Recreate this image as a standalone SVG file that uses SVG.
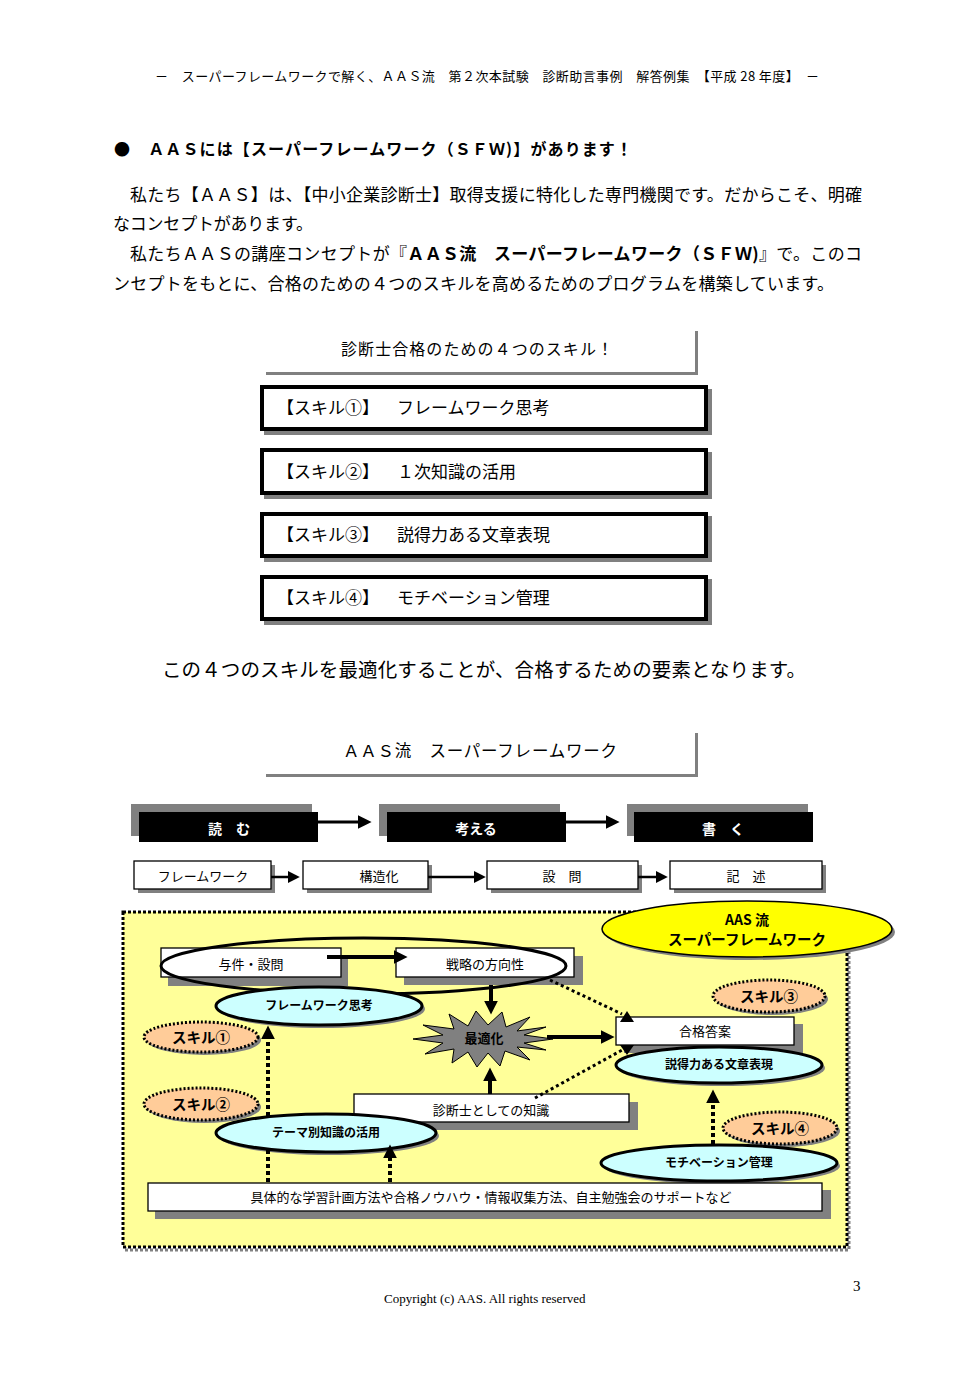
<svg xmlns="http://www.w3.org/2000/svg" width="977" height="1387" viewBox="0 0 977 1387">
<defs>
<style>
.t{font-family:"Noto Sans CJK JP","Noto Sans CJK SC",sans-serif;fill:#000}
.b{font-weight:bold}
.sh{fill:#808080}
.wb{fill:#fff;stroke:#000;stroke-width:1.3}
.sk{fill:#fff;stroke:#000;stroke-width:4}
.cy{fill:#CCFFFF;stroke:#000;stroke-width:3}
.pe{fill:#FFCC99;stroke:#000;stroke-width:3;stroke-dasharray:2 2}
.gl{fill:none;stroke:#808080;stroke-width:3}
.ln{fill:none;stroke:#000}
.dt{stroke-dasharray:4 3}
.ds{stroke-dasharray:3 3}
</style>
<marker id="ah" viewBox="0 0 10 10" refX="6" refY="5" markerWidth="14" markerHeight="14" markerUnits="userSpaceOnUse" orient="auto"><path d="M0,0 L10,5 L0,10 z" fill="#000"/></marker>
<marker id="as" viewBox="0 0 10 10" refX="6" refY="5" markerWidth="12" markerHeight="12" markerUnits="userSpaceOnUse" orient="auto"><path d="M0,0 L10,5 L0,10 z" fill="#000"/></marker>
</defs>
<rect width="977" height="1387" fill="#fff"/>

<!-- header & intro text -->
<text class="t" x="155" y="81" font-size="13" textLength="664" lengthAdjust="spacing" fill="#222">－　スーパーフレームワークで解く、ＡＡＳ流　第２次本試験　診断助言事例　解答例集　【平成 28 年度】　－</text>
<text class="t b" x="114" y="155" font-size="16" textLength="518" lengthAdjust="spacing">●　ＡＡＳには【スーパーフレームワーク（ＳＦＷ)】があります！</text>
<text class="t" x="130" y="201" font-size="17" textLength="732" lengthAdjust="spacing">私たち【ＡＡＳ】は、【中小企業診断士】取得支援に特化した専門機関です。だからこそ、明確</text>
<text class="t" x="113" y="230" font-size="17" textLength="200" lengthAdjust="spacing">なコンセプトがあります。</text>
<text class="t" x="130" y="260" font-size="17" textLength="732" lengthAdjust="spacing">私たちＡＡＳの講座コンセプトが『<tspan class="b">ＡＡＳ流　スーパーフレームワーク（ＳＦＷ)</tspan>』で。このコ</text>
<text class="t" x="113" y="290" font-size="17" textLength="721" lengthAdjust="spacing">ンセプトをもとに、合格のための４つのスキルを高めるためのプログラムを構築しています。</text>

<!-- skills title -->
<g id="skills-title">
<polyline class="gl" points="266,373.5 696.5,373.5 696.5,331"/>
<text class="t" x="341" y="355" font-size="16" textLength="272" lengthAdjust="spacing">診断士合格のための４つのスキル！</text>
</g>
<g id="skill1">
<rect class="sh" x="264" y="389" width="448" height="46"/>
<rect class="sk" x="262" y="387" width="444" height="42"/>
<text class="t" x="277" y="414" font-size="17">【スキル①】</text>
<text class="t" x="397" y="414" font-size="17">フレームワーク思考</text>
</g>
<g id="skill2">
<rect class="sh" x="264" y="452" width="448" height="47"/>
<rect class="sk" x="262" y="450" width="444" height="43"/>
<text class="t" x="277" y="478" font-size="17">【スキル②】</text>
<text class="t" x="397" y="478" font-size="17">１次知識の活用</text>
</g>
<g id="skill3">
<rect class="sh" x="264" y="516" width="448" height="46"/>
<rect class="sk" x="262" y="514" width="444" height="42"/>
<text class="t" x="277" y="541" font-size="17">【スキル③】</text>
<text class="t" x="397" y="541" font-size="17">説得力ある文章表現</text>
</g>
<g id="skill4">
<rect class="sh" x="264" y="579" width="448" height="46"/>
<rect class="sk" x="262" y="577" width="444" height="42"/>
<text class="t" x="277" y="604" font-size="17">【スキル④】</text>
<text class="t" x="397" y="604" font-size="17">モチベーション管理</text>
</g>
<text class="t" x="162" y="677" font-size="19.5" textLength="644" lengthAdjust="spacing">この４つのスキルを最適化することが、合格するための要素となります。</text>

<!-- framework title -->
<g id="sfw-title">
<polyline class="gl" points="266,775.5 696.5,775.5 696.5,733"/>
<text class="t" x="343" y="757" font-size="16.5" textLength="274" lengthAdjust="spacing">ＡＡＳ流　スーパーフレームワーク</text>
</g>

<!-- black step boxes -->
<g id="step-read">
<rect class="sh" x="131" y="804" width="181" height="32"/>
<rect x="139" y="812" width="179" height="30" fill="#000"/>
<text class="t b" x="229" y="834" font-size="14" text-anchor="middle" style="fill:#fff">読　む</text>
</g>
<g id="step-think">
<rect class="sh" x="379" y="804" width="181" height="32"/>
<rect x="387" y="812" width="179" height="30" fill="#000"/>
<text class="t b" x="476" y="834" font-size="14" text-anchor="middle" style="fill:#fff">考える</text>
</g>
<g id="step-write">
<rect class="sh" x="627" y="804" width="181" height="32"/>
<rect x="634" y="812" width="179" height="30" fill="#000"/>
<text class="t b" x="723" y="834" font-size="14" text-anchor="middle" style="fill:#fff">書　く</text>
</g>

<!-- second row -->
<g id="row-fw">
<rect class="sh" x="138" y="865" width="137" height="28"/>
<rect class="wb" x="134" y="861" width="137" height="28"/>
<text class="t" x="203" y="881" font-size="13" text-anchor="middle">フレームワーク</text>
</g>
<g id="row-struct">
<rect class="sh" x="307" y="865" width="125" height="28"/>
<rect class="wb" x="303" y="861" width="125" height="28"/>
<text class="t" x="379" y="881" font-size="13" text-anchor="middle">構造化</text>
</g>
<g id="row-q">
<rect class="sh" x="491" y="865" width="151" height="28"/>
<rect class="wb" x="487" y="861" width="151" height="28"/>
<text class="t" x="562" y="881" font-size="13" text-anchor="middle">設　問</text>
</g>
<g id="row-desc">
<rect class="sh" x="674" y="865" width="152" height="28"/>
<rect class="wb" x="670" y="861" width="152" height="28"/>
<text class="t" x="746" y="881" font-size="13" text-anchor="middle">記　述</text>
</g>

<!-- framework region -->
<g id="region">
<rect x="125" y="915" width="724" height="335" fill="none" stroke="#808080" stroke-width="3" stroke-dasharray="3 2"/>
<rect x="123" y="912" width="724" height="335" fill="#FFFF99" stroke="#000" stroke-width="3" stroke-dasharray="3 2"/>
</g>
<g id="sfw-label">
<ellipse class="sh" cx="750" cy="932" rx="145" ry="28"/>
<ellipse cx="747" cy="929" rx="145" ry="28" fill="#FFFF00" stroke="#000" stroke-width="1.5"/>
<text class="t b" x="747" y="925" font-size="14" text-anchor="middle">AAS 流</text>
<text class="t b" x="747" y="945" font-size="14.5" text-anchor="middle">スーパーフレームワーク</text>
</g>

<g id="yoken">
<rect class="sh" x="168" y="956" width="180" height="30"/>
<rect class="wb" x="161" y="948" width="180" height="29"/>
<text class="t" x="251" y="969" font-size="13" text-anchor="middle">与件・設問</text>
</g>
<g id="senryaku">
<rect class="sh" x="404" y="956" width="179" height="29"/>
<rect class="wb" x="396" y="948" width="178" height="29"/>
<text class="t" x="485" y="969" font-size="13" text-anchor="middle">戦略の方向性</text>
</g>
<g id="read-loop">
<ellipse cx="363.5" cy="966" rx="202.5" ry="28" fill="none" stroke="#000" stroke-width="3"/>
</g>
<g id="fw-think">
<ellipse class="sh" cx="322" cy="1009" rx="103" ry="19"/>
<ellipse class="cy" cx="319" cy="1006" rx="103" ry="19"/>
<text class="t b" x="319" y="1010" font-size="12" text-anchor="middle">フレームワーク思考</text>
</g>
<g id="skill-1">
<ellipse class="sh" cx="204" cy="1040" rx="57" ry="15"/>
<ellipse class="pe" cx="201" cy="1037" rx="57" ry="15"/>
<text class="t b" x="201" y="1042.5" font-size="14.5" text-anchor="middle">スキル①</text>
</g>
<g id="optimize">
<polygon points="553,1039 524,1043 546,1050 517,1047 530,1060 505,1051 500,1066 488,1053 477,1067 468,1052 452,1063 454,1049 425,1054 443,1043 413,1039 443,1035 423,1025 454,1029 449,1014 468,1026 476,1011 488,1025 502,1012 506,1027 530,1017 517,1031 546,1027 524,1035" fill="#808080" stroke="#000" stroke-width="1"/>
<text class="t b" x="484" y="1043" font-size="13" text-anchor="middle">最適化</text>
</g>
<g id="skill-3">
<ellipse class="sh" cx="772" cy="999" rx="56" ry="16"/>
<ellipse class="pe" cx="769" cy="996" rx="56" ry="16"/>
<text class="t b" x="769" y="1001.5" font-size="14.5" text-anchor="middle">スキル③</text>
</g>
<g id="answer">
<rect class="sh" x="624" y="1024" width="179" height="29"/>
<rect class="wb" x="616" y="1017" width="178" height="28"/>
<text class="t" x="705" y="1036" font-size="13" text-anchor="middle">合格答案</text>
</g>
<g id="writing">
<ellipse class="sh" cx="722" cy="1068" rx="103" ry="18"/>
<ellipse class="cy" cx="719" cy="1065" rx="103" ry="18"/>
<text class="t b" x="719" y="1069" font-size="12" text-anchor="middle">説得力ある文章表現</text>
</g>
<g id="knowledge">
<rect class="sh" x="362" y="1102" width="276" height="28"/>
<rect class="wb" x="354" y="1094" width="275" height="28"/>
<text class="t" x="491" y="1115" font-size="13" text-anchor="middle">診断士としての知識</text>
</g>
<g id="skill-2">
<ellipse class="sh" cx="204" cy="1107" rx="57" ry="16"/>
<ellipse class="pe" cx="201" cy="1104" rx="57" ry="16"/>
<text class="t b" x="201" y="1109.5" font-size="14.5" text-anchor="middle">スキル②</text>
</g>
<g id="theme">
<ellipse class="sh" cx="329" cy="1136" rx="110" ry="19"/>
<ellipse class="cy" cx="326" cy="1133" rx="110" ry="19"/>
<text class="t b" x="326" y="1137" font-size="12" text-anchor="middle">テーマ別知識の活用</text>
</g>
<g id="skill-4">
<ellipse class="sh" cx="783" cy="1131" rx="57" ry="16"/>
<ellipse class="pe" cx="780" cy="1128" rx="57" ry="16"/>
<text class="t b" x="780" y="1133.5" font-size="14.5" text-anchor="middle">スキル④</text>
</g>
<g id="motivation">
<ellipse class="sh" cx="722" cy="1166" rx="118" ry="18"/>
<ellipse class="cy" cx="719" cy="1163" rx="118" ry="18"/>
<text class="t b" x="719" y="1167" font-size="12" text-anchor="middle">モチベーション管理</text>
</g>
<g id="support">
<rect class="sh" x="155" y="1190" width="676" height="29"/>
<rect class="wb" x="148" y="1183" width="674" height="28"/>
<text class="t" x="491" y="1202" font-size="13" text-anchor="middle">具体的な学習計画方法や合格ノウハウ・情報収集方法、自主勉強会のサポートなど</text>
</g>

<!-- connectors -->
<g id="connectors">
<line class="ln" x1="318" y1="822" x2="366" y2="822" stroke-width="3" marker-end="url(#ah)"/>
<line class="ln" x1="566" y1="822" x2="614" y2="822" stroke-width="3" marker-end="url(#ah)"/>
<line class="ln" x1="271" y1="877" x2="295" y2="877" stroke-width="2.5" marker-end="url(#as)"/>
<line class="ln" x1="428" y1="877" x2="481" y2="877" stroke-width="2.5" marker-end="url(#as)"/>
<line class="ln" x1="638" y1="877" x2="663" y2="877" stroke-width="2.5" marker-end="url(#as)"/>
<line class="ln" x1="327" y1="957" x2="402" y2="957" stroke-width="4" marker-end="url(#ah)"/>
<line class="ln" x1="491" y1="985" x2="491" y2="1009" stroke-width="4" marker-end="url(#ah)"/>
<line class="ln" x1="547" y1="1037" x2="609" y2="1037" stroke-width="4" marker-end="url(#ah)"/>
<line class="ln" x1="490" y1="1094" x2="490" y2="1073" stroke-width="4" marker-end="url(#ah)"/>
<line class="ln ds" x1="550" y1="980" x2="622" y2="1014" stroke-width="3"/>
<polygon points="627,1011 620,1022 634,1022" fill="#000"/>
<line class="ln ds" x1="535" y1="1098" x2="624" y2="1049" stroke-width="3"/>
<polygon points="620,1045 634,1045 627,1055" fill="#000"/>
<line class="ln dt" x1="268" y1="1182" x2="268" y2="1150" stroke-width="4"/>
<line class="ln dt" x1="268" y1="1116" x2="268" y2="1031" stroke-width="4" marker-end="url(#ah)"/>
<line class="ln dt" x1="390" y1="1182" x2="390" y2="1150" stroke-width="4" marker-end="url(#ah)"/>
<line class="ln dt" x1="713" y1="1144" x2="713" y2="1095" stroke-width="4" marker-end="url(#ah)"/>
</g>

<!-- footer -->
<text x="384" y="1303" font-family="'Liberation Serif',serif" font-size="13">Copyright (c) AAS. All rights reserved</text>
<text x="853" y="1291" font-family="'Liberation Serif',serif" font-size="15">3</text>
</svg>
